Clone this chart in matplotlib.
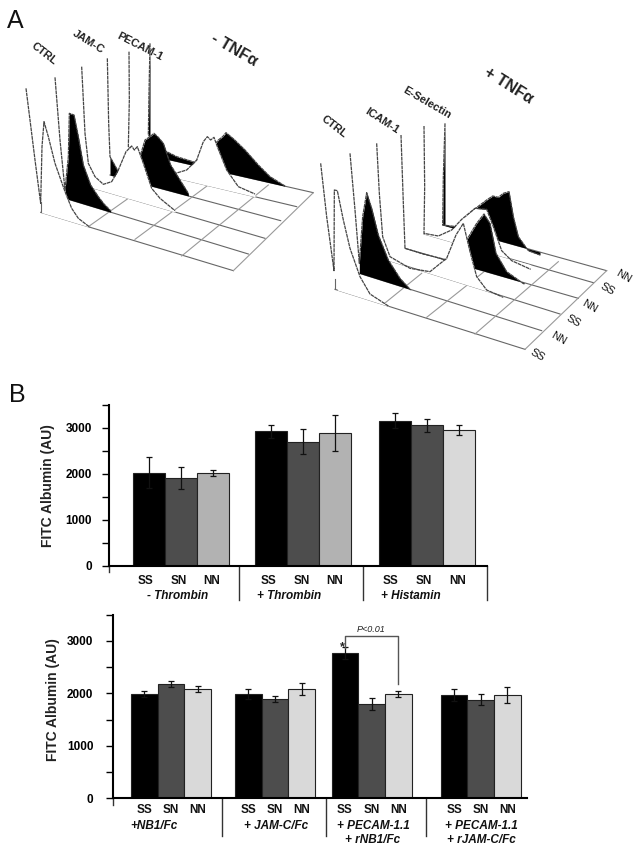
#!/usr/bin/env python3
"""Two panel figure: flow cytometry histograms (A) and FITC albumin bars (B)"""
import numpy as np
import matplotlib
matplotlib.use("Agg")
import matplotlib.pyplot as plt

plt.rcParams['font.family'] = ['Liberation Sans', 'DejaVu Sans']

W, H = 642, 855

# Panel A, traced outlines: (x, y) in crop units, front row first
left_rows = [
    [(78, 265), (90, 360), (105, 480), (122, 610), (126, 440), (132, 365), (145, 410), (165, 490), (195, 575), (215, 625), (235, 655), (270, 682)],
    [(165, 232), (180, 420), (195, 570), (205, 470), (208, 340), (222, 345), (235, 410), (250, 495), (272, 555), (295, 590), (312, 612), (332, 632)],
    [(245, 200), (255, 400), (265, 490), (285, 530), (310, 553), (335, 545), (355, 510), (378, 455), (388, 445), (395, 438), (403, 450), (412, 440), (430, 490), (455, 565), (480, 595), (525, 632)],
    [(322, 175), (326, 370), (330, 470), (355, 515), (385, 500), (420, 470), (435, 420), (450, 410), (462, 400), (475, 412), (490, 430), (512, 495), (540, 540), (565, 580)],
    [(387, 155), (388, 300), (385, 440), (420, 460), (480, 480), (520, 522), (560, 510), (590, 480), (610, 425), (622, 410), (632, 420), (642, 412), (652, 440), (680, 510), (715, 560), (765, 582)],
    [(450, 130), (447, 280), (445, 405), (480, 445), (530, 470), (585, 487), (640, 440), (655, 420), (668, 410), (678, 398), (690, 408), (702, 418), (735, 450), (775, 495), (810, 530), (855, 558)],
]
left_front = [(122, 637), (700, 812)]
left_row_ends = [(700, 812), (745, 762), (795, 715), (842, 662), (890, 620), (940, 578)]
left_row_starts = [(122, 637), (195, 595), (265, 560), (330, 525), (385, 500), (445, 465)]
left_cross = [[(265, 680), (385, 595)], [(405, 718), (625, 555)], [(545, 768), (805, 555)]]

right_rows = [
    [(32, 310), (50, 470), (72, 632), (73, 390), (82, 392), (100, 480), (120, 565), (150, 650), (180, 702), (235, 738)],
    [(120, 280), (135, 450), (148, 610), (158, 470), (170, 398), (185, 445), (205, 525), (235, 600), (270, 655), (302, 690)],
    [(200, 250), (208, 400), (218, 530), (240, 590), (300, 625), (360, 635), (410, 595), (438, 525), (460, 490), (480, 575), (500, 650), (530, 690), (580, 712)],
    [(273, 225), (280, 430), (285, 565), (340, 582), (412, 600), (470, 540), (500, 490), (522, 462), (540, 490), (558, 580), (590, 635), (642, 672)],
    [(342, 198), (344, 380), (342, 520), (385, 528), (425, 510), (455, 478), (495, 445), (530, 448), (550, 500), (575, 572), (605, 602), (662, 628)],
    [(405, 190), (400, 350), (398, 495), (440, 500), (490, 450), (530, 420), (548, 408), (565, 412), (580, 400), (597, 395), (610, 470), (625, 530), (655, 572), (690, 585)],
]
right_front = [(75, 688), (645, 868)]
right_row_ends = [(645, 868), (695, 812), (750, 762), (805, 715), (850, 668), (890, 632)]
right_row_starts = [(75, 688), (148, 640), (215, 595), (285, 565), (342, 522), (398, 495)]
right_cross = [[(220, 733), (335, 640)], [(350, 772), (560, 605)], [(495, 822), (745, 605)]]

left_labels = ["CTRL", "JAM-C", "PECAM-1"]
right_labels = ["CTRL", "ICAM-1", "E-Selectin"]
row_labels = ["SS", "NN", "SS", "NN", "SS", "NN"]

# Panel B, upper chart
top_groups = ["- Thrombin", "+ Thrombin", "+ Histamin"]
top_vals = [[2030, 1920, 2020], [2925, 2705, 2890], [3160, 3060, 2955]]
top_errs = [[330, 240, 70], [135, 270, 385], [170, 140, 100]]
top_colors = [["#000000", "#4d4d4d", "#b2b2b2"],
              ["#000000", "#4d4d4d", "#b2b2b2"],
              ["#000000", "#4d4d4d", "#d9d9d9"]]

# Panel B, lower chart
bottom_groups = ["+NB1/Fc", "+ JAM-C/Fc", "+ PECAM-1.1\n+ rNB1/Fc", "+ PECAM-1.1\n+ rJAM-C/Fc"]
bottom_vals = [[1990, 2173, 2085], [1990, 1895, 2085], [2767, 1794, 1984], [1970, 1882, 1970]]
bottom_errs = [[60, 60, 60], [95, 55, 110], [110, 110, 60], [120, 100, 150]]
bottom_colors = ["#000000", "#4d4d4d", "#d9d9d9"]

bar_labels = ["SS", "SN", "NN"]


def px_axes(fig, x0, y0, x1, y1):
    """Axes from pixel box, y measured from the top of the image"""
    return fig.add_axes([x0 / W, 1 - y1 / H, (x1 - x0) / W, (y1 - y0) / H])


def draw_histograms(ax, rows, front, row_ends, row_starts, cross):
    """Perspective stack of histograms, drawn back to front"""
    x0, y0 = front[0]
    for (a, b), (c, d) in zip(row_starts, row_ends):
        ax.plot([a, c], [b, d], color="#666666", lw=0.8, zorder=1)
    ax.plot([row_ends[0][0], row_ends[-1][0]], [row_ends[0][1], row_ends[-1][1]],
            color="#999999", lw=0.8, zorder=1)
    for line in cross:
        ax.plot(*zip(*line), color="#999999", lw=0.8, zorder=1)
    ax.plot([x0, x0], [y0, y0 - 30], color="#666666", lw=0.8, zorder=20)

    for i in range(len(rows) - 1, -1, -1):
        pts = np.array(rows[i])
        z = 10 - i + 2
        fill = "black" if i % 2 else "white"
        base_y = np.interp(pts[:, 0], [row_starts[i][0], row_ends[i][0]],
                           [row_starts[i][1], row_ends[i][1]])
        keep = pts[:, 0] >= row_starts[i][0]
        ax.fill_between(pts[keep, 0], pts[keep, 1], base_y[keep], color=fill, lw=0, zorder=z)
        ax.plot(pts[:, 0], pts[:, 1], color="#444444", lw=0.9, ls=(0, (3, 0.5)), zorder=z)


def draw_bars(ax, vals, errs, colors, starts):
    for g, start in enumerate(starts):
        xs = start + np.arange(3) + 0.5
        ax.bar(xs, vals[g], width=1, color=colors[g], edgecolor="#222222", lw=0.8, zorder=2)
        ax.errorbar(xs, vals[g], yerr=errs[g], fmt="none", ecolor="#111111",
                    elinewidth=0.9, capsize=2.5, capthick=0.9, zorder=3)


def style_axis(ax, xmax, pad):
    ax.set_xlim(0, xmax)
    ax.set_ylim(0, 3500)
    ax.set_yticks([0, 1000, 2000, 3000])
    ax.set_yticks([500, 1500, 2500, 3500], minor=True)
    ax.set_xticks([])
    ax.tick_params(axis="y", which="both", length=5, width=1.0, pad=pad)
    for lab in ax.get_yticklabels():
        lab.set_fontweight("bold")
        lab.set_fontsize(8.5)
    ax.spines["top"].set_visible(False)
    ax.spines["right"].set_visible(False)
    ax.spines["left"].set_linewidth(1.5)
    ax.spines["bottom"].set_linewidth(1.5)
    ax.set_ylabel("FITC Albumin (AU)", fontweight="bold", fontsize=10, color="#222222")


fig = plt.figure(figsize=(W / 100, H / 100), dpi=100)

# Panel A
ax_l = px_axes(fig, 0, 0, 320, 290)
ax_l.set_xlim(0, 960)
ax_l.set_ylim(870, 0)
ax_l.axis("off")
draw_histograms(ax_l, left_rows, left_front, left_row_ends, left_row_starts, left_cross)
for s, (x, y), rot in zip(left_labels, [(133, 160), (265, 125), (420, 140)], [-38, -32, -27]):
    ax_l.text(x, y, s, rotation=rot, ha="center", va="center", fontsize=8, fontweight="bold",
              color="#222222", rotation_mode="anchor")
ax_l.text(703, 150, "- TNFα", rotation=-30, ha="center", va="center", fontsize=11.5,
          fontweight="bold", color="#222222", rotation_mode="anchor")

ax_r = px_axes(fig, 310, 60, 642, 380)
ax_r.set_xlim(0, 996)
ax_r.set_ylim(960, 0)
ax_r.axis("off")
draw_histograms(ax_r, right_rows, right_front, right_row_ends, right_row_starts, right_cross)
for s, (x, y), rot in zip(right_labels, [(73, 200), (217, 183), (352, 130)], [-38, -33, -30]):
    ax_r.text(x, y, s, rotation=rot, ha="center", va="center", fontsize=8, fontweight="bold",
              color="#222222", rotation_mode="anchor")
ax_r.text(595, 78, "+ TNFα", rotation=-32, ha="center", va="center", fontsize=11.5,
          fontweight="bold", color="#222222", rotation_mode="anchor")
for s, (x, y) in zip(row_labels, [(683, 884), (745, 835), (790, 782), (838, 738), (893, 688), (940, 648)]):
    ax_r.text(x, y, s, rotation=-30, ha="center", va="center", fontsize=8, color="#111111",
              rotation_mode="anchor")

fig.text(7 / W, 1 - 28 / H, "A", fontsize=18, color="#111111")
fig.text(9 / W, 1 - 402 / H, "B", fontsize=18, color="#111111")

# Panel B, upper chart
ax1 = px_axes(fig, 108.7, 405, 487.3, 566)
top_starts = [0.75, 4.58, 8.45]
draw_bars(ax1, top_vals, top_errs, top_colors, top_starts)
style_axis(ax1, 11.83, 7)
ax1.yaxis.set_label_coords(-0.142, 0.5)
for cx, name in zip([2.18, 6.03, 9.85], top_groups):
    for k, s in enumerate(bar_labels):
        ax1.text(cx + (k - 1) * 1.04, -323, s, ha="center", va="center", fontsize=8.5,
                 fontweight="bold", color="#111111")
    ax1.text(cx - 0.03 if name[0] == "-" else cx - 0.4, -660, name, ha="center", va="center", fontsize=8.5,
             fontweight="bold", style="italic", color="#111111")
for x in [0, 4.08, 7.96, 11.83]:
    ax1.plot([x, x], [0, -733 if x else -120], color="#333333", lw=1.0, clip_on=False)

# Panel B, lower chart
ax2 = px_axes(fig, 112.7, 614.7, 527, 798.3)
bottom_starts = [0.69, 4.6, 8.23, 12.33]
draw_bars(ax2, bottom_vals, bottom_errs, [bottom_colors] * 4, bottom_starts)
style_axis(ax2, 15.57, 9)
ax2.yaxis.set_label_coords(-0.128, 0.54)
for start, cx, name in zip(bottom_starts, [1.56, 6.13, 9.78, 13.85], bottom_groups):
    for k, s in enumerate(bar_labels):
        ax2.text(start + k + 0.5, -222, s, ha="center", va="center", fontsize=8.5,
                 fontweight="bold", color="#111111")
    ax2.text(cx, -405, name, ha="center", va="top", fontsize=8.5, fontweight="bold",
             style="italic", color="#111111", linespacing=1.25)
for x in [0, 4.12, 8.0, 11.78]:
    ax2.plot([x, x], [0, -727 if x else -130], color="#333333", lw=1.0, clip_on=False)

# significance bracket between SS and NN of the third group
x_ss = bottom_starts[2] + 0.5
x_nn = bottom_starts[2] + 2.5
ax2.plot([x_ss, x_ss, x_nn, x_nn], [2767 + 100, 3100, 3100, 2170], color="#555555", lw=1.0, zorder=4)
ax2.text((x_ss + x_nn) / 2 - 0.02, 3225, "P<0.01", ha="center", va="center", fontsize=6.5,
         style="italic", color="#222222")
ax2.text(x_ss - 0.08, 2880, "*", ha="center", va="center", fontsize=9, fontweight="bold", color="#222222")

fig.savefig("out.png", dpi=100)
